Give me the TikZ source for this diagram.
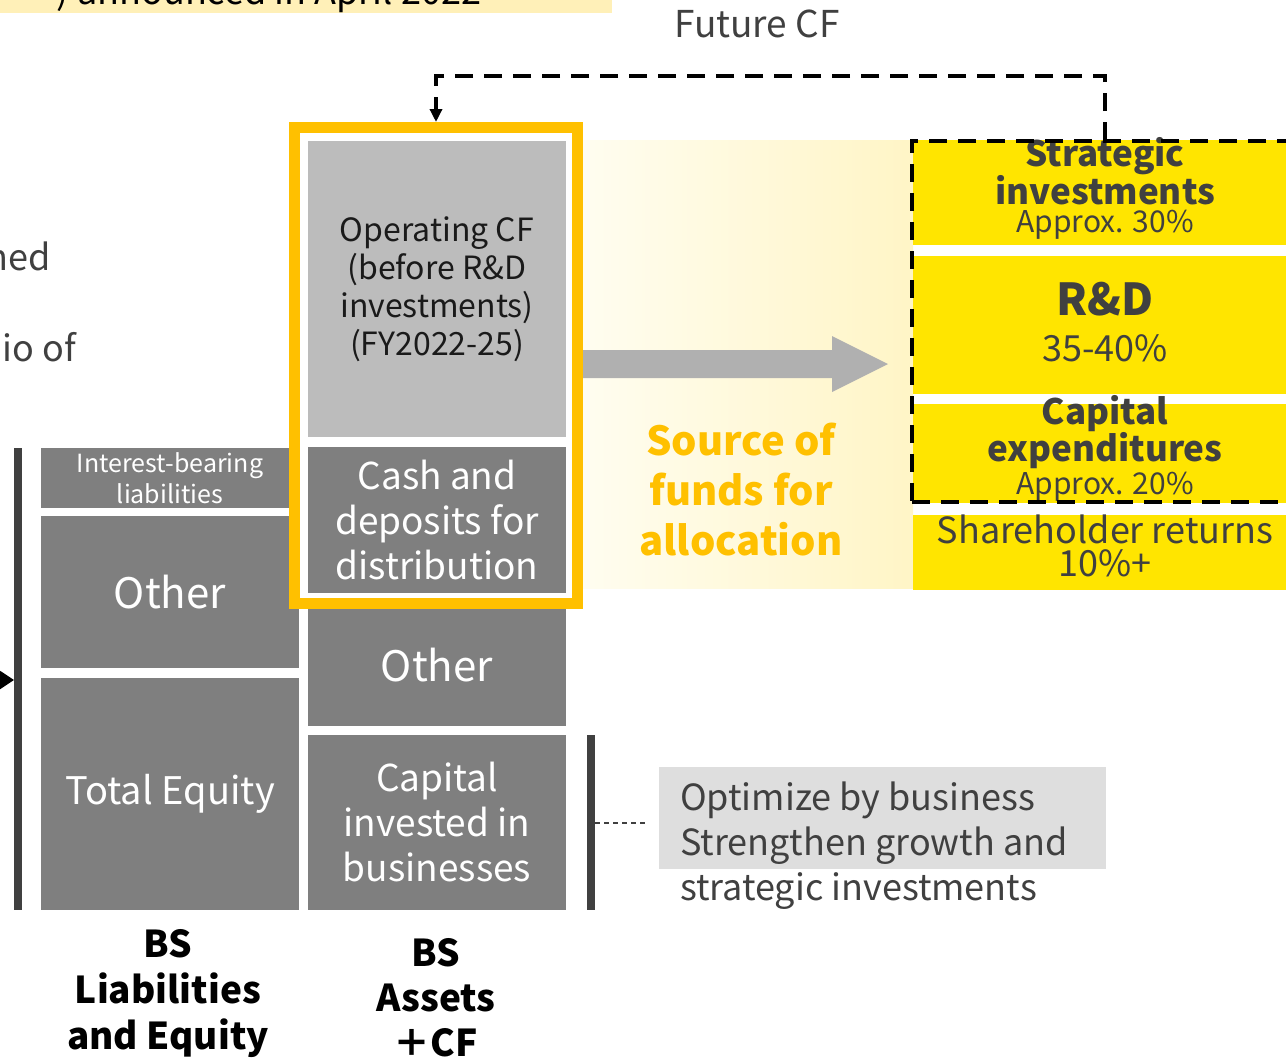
\documentclass[tikz,border=0pt]{standalone}
\usepackage{fontspec}
\setmainfont{Noto Sans CJK JP}
\usetikzlibrary{arrows.meta}
\definecolor{boxgray}{HTML}{7F7F7F}
\definecolor{lightbox}{HTML}{BCBCBC}
\definecolor{darkbar}{HTML}{404040}
\definecolor{frameyellow}{HTML}{FFC000}
\definecolor{brightyellow}{HTML}{FFE500}
\definecolor{gradleft}{HTML}{FFFDF0}
\definecolor{gradright}{HTML}{FFF5C6}
\definecolor{headband}{HTML}{FFF0B8}
\definecolor{arrowgray}{HTML}{B0B0B0}
\definecolor{notegray}{HTML}{DEDEDE}
\definecolor{darktext}{HTML}{404040}
\definecolor{blacktext}{HTML}{1A1A1A}
\newcommand\myfs[2]{\fontsize{#1pt}{#2pt}\selectfont}
\begin{document}
\begin{tikzpicture}[x=1pt,y=-1pt,
  blk/.style={rectangle, inner sep=0pt, outer sep=0pt, draw=none, align=center},
  txt/.style={inner sep=0pt, outer sep=0pt, align=center},
  bigdash/.style={draw=black, line width=3.5pt, dash pattern=on 18pt off 11pt},
  conn/.style={bigdash, -{Triangle[length=13pt,width=12pt]}}
]
\useasboundingbox (0,0) rectangle (1286,1058);
\clip (0,0) rectangle (1286,1058);

% header
\fill[headband] (0,0) rectangle (612,13);
\node[txt, anchor=base east, text=black, font=\myfs{36}{40}] (head) at (481,4) {) announced in April 2022};
\node[txt, text=darktext, font=\myfs{37}{40}] (future) at (757,24) {Future CF};
\node[txt, anchor=east, text=darktext, font=\myfs{36}{40}] (cut1) at (51,256) {ned};
\node[txt, anchor=east, text=darktext, font=\myfs{36}{40}] (cut2) at (76,347) {io of};

% gradient area
\shade[left color=gradleft, right color=gradright] (583,140) rectangle (913,588);

% left bar and arrow tip
\node[blk, fill=darkbar, minimum width=8pt, minimum height=462pt] (leftbar) at (18,679) {};
\coordinate (lin) at (-40,680);
\draw[line width=2pt, -{Triangle[length=14pt,width=18pt]}] (lin) -- (leftbar.west |- lin);

% left column
\node[blk, fill=boxgray, minimum width=258pt, minimum height=60pt, text=white, font=\myfs{25}{31}] (ibl) at (170,478) {Interest-bearing\\liabilities};
\node[blk, fill=boxgray, minimum width=258pt, minimum height=152pt, text=white, font=\myfs{42}{46}] (lother) at (170,592) {Other};
\node[blk, fill=boxgray, minimum width=258pt, minimum height=232pt, text=white, font=\myfs{38}{44}] (teq) at (170,794) {Total Equity};

% middle column lower boxes
\node[blk, fill=boxgray, minimum width=258pt, minimum height=128pt] (mother) at (437,662) {};
\node[txt, text=white, font=\myfs{42}{46}] (mothert) at (437,665) {Other};
\node[blk, fill=boxgray, minimum width=258pt, minimum height=175pt, text=white, font=\myfs{37}{45}] (cib) at (437,822.5) {Capital\\invested in\\businesses};

% yellow frame
\node[rectangle, draw=frameyellow, line width=11pt, fill=white, minimum width=283pt, minimum height=476pt, inner sep=0pt] (frame) at (436,365.5) {};
\node[blk, fill=lightbox, minimum width=258pt, minimum height=296pt, text=blacktext, font=\myfs{32}{38}] (ocf) at (437,289) {Operating CF\\(before R\&D\\investments)\\(FY2022-25)};
\node[blk, fill=boxgray, minimum width=258pt, minimum height=146pt, text=white, font=\myfs{37}{45}] (cash) at (437,520) {Cash and\\deposits for\\distribution};

% right bar and dashed link to note
\node[blk, fill=darkbar, minimum width=8pt, minimum height=175pt] (rbar) at (591,822.5) {};
\coordinate (dend) at (647,823);
\draw[darkbar, line width=1.5pt, dash pattern=on 5pt off 4pt] (rbar.east |- dend) -- (dend);
\node[blk, fill=notegray, minimum width=447pt, minimum height=102pt] (note) at (882.5,818) {};
\node[txt, anchor=west, align=left, text=darktext, font=\myfs{36}{45}] (notet) at (680,846) {Optimize by business\\Strengthen growth and\\strategic investments};

% gray arrow
\fill[arrowgray] (frame.east |- 0,350) -- (832,350) -- (832,336) -- (888,364) -- (832,392) -- (832,378) -- (frame.east |- 0,378) -- cycle;

\node[txt, text=frameyellow, font=\bfseries\myfs{40}{50}] (source) at (741,490) {Source of\\funds for\\allocation};

% yellow boxes
\node[blk, fill=brightyellow, minimum width=384pt, minimum height=105pt] (strat) at (1105,192.5) {};
\node[blk, fill=brightyellow, minimum width=384pt, minimum height=138pt] (rd) at (1105,325) {};
\node[blk, fill=brightyellow, minimum width=384pt, minimum height=99pt] (capex) at (1105,453.5) {};
\node[blk, fill=brightyellow, minimum width=384pt, minimum height=75pt] (share) at (1105,552.5) {};

\node[txt, text=darktext, font=\bfseries\myfs{35}{36}] (stratt) at (1105,171) {Strategic\\investments};
\node[txt, text=darktext, font=\myfs{30}{30}] (stratp) at (1105,225) {Approx. 30\%};
\node[txt, text=darktext, font=\bfseries\myfs{44}{44}] (rdt) at (1105,299) {R\&D};
\node[txt, text=darktext, font=\myfs{36}{36}] (rdp) at (1105,348) {35-40\%};
\node[txt, text=darktext, font=\bfseries\myfs{35}{37}] (capext) at (1105,432) {Capital\\expenditures};
\node[txt, text=darktext, font=\myfs{30}{30}] (capexp) at (1105,487) {Approx. 20\%};
\node[txt, text=darktext, font=\myfs{36}{33}] (sharet) at (1105,546) {Shareholder returns\\10\%+};

% dashed box
\node[rectangle, bigdash, minimum width=388pt, minimum height=361pt, inner sep=0pt, outer sep=0pt] (dbox) at (1106,321.5) {};

% future CF connector
\draw[conn] (strat.north) -- ++(0,-64) -| (frame.north);

% bottom labels
\node[txt, text=black, font=\bfseries\myfs{37}{46}] (lbl1) at (168,994) {BS\\Liabilities\\and Equity};
\node[txt, text=black, font=\bfseries\myfs{37}{45}] (lbl2) at (436,998) {BS\\Assets\\＋CF};
\end{tikzpicture}
\end{document}
